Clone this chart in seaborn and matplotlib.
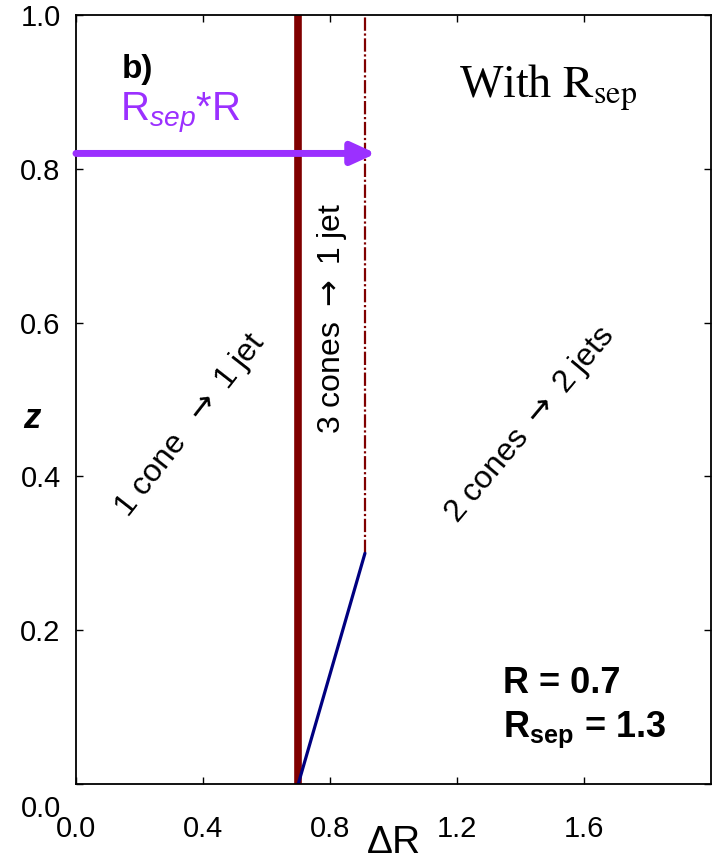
import numpy as np
import pandas as pd
import matplotlib
matplotlib.use("Agg")
import matplotlib.pyplot as plt
import matplotlib.transforms as mtransforms
import seaborn as sns

# Cone parameters
R = 0.7
R_sep = 1.3

# Region boundaries (Delta R, z)
merge_x = [0.7, 0.7]
merge_z = [0.0, 1.0]
sep_x = [0.91, 0.91]
sep_z = [0.3, 1.0]
diag_x = [0.7, 0.91]
diag_z = [0.0, 0.3]

# R_sep*R arrow
arrow_z = 0.82
arrow_end = 0.945

xticks = [0.0, 0.4, 0.8, 1.2, 1.6]
yticks = [0.0, 0.2, 0.4, 0.6, 0.8, 1.0]

region_labels = [r"1 cone  $\rightarrow$ 1 jet", r"3 cones $\rightarrow$ 1 jet",
                 r"2 cones $\rightarrow$ 2 jets"]

sns.set_theme(style="ticks")
plt.rcParams['font.family'] = ['Liberation Sans', 'DejaVu Sans']
plt.rcParams['text.color'] = 'black'
plt.rcParams['axes.labelcolor'] = 'black'
plt.rcParams['mathtext.fontset'] = 'custom'
plt.rcParams['mathtext.rm'] = 'Liberation Sans'
plt.rcParams['mathtext.it'] = 'Liberation Sans:italic'
plt.rcParams['mathtext.bf'] = 'Liberation Sans:bold'

fig = plt.figure(figsize=(7.12, 8.63), dpi=100)
ax = fig.add_axes([0.1067, 0.0915, 0.892, 0.8911])

sns.lineplot(x=merge_x, y=merge_z, estimator=None, sort=False, color="#800000", lw=5.5, ax=ax)
sns.lineplot(x=sep_x, y=sep_z, estimator=None, sort=False, color="#800000", lw=1.6,
             linestyle=(0, (6, 1.2, 1, 1.2)), ax=ax)
sns.lineplot(x=diag_x, y=diag_z, estimator=None, sort=False, color="#000080", lw=2.3, ax=ax)

ax.annotate("", xy=(arrow_end, arrow_z), xytext=(0.0, arrow_z),
            arrowprops=dict(arrowstyle="-|>,head_length=1.2,head_width=0.55",
                            color="#9b30ff", lw=5, shrinkA=0, shrinkB=0))

ax.set_xlim(0, 2.0)
ax.set_ylim(0, 1.0)
ax.set_xticks(xticks)
ax.set_yticks(yticks)
ax.set_xticklabels([f"{t:.1f}" for t in xticks])
ax.set_yticklabels([f"{t:.1f}" for t in yticks])
ax.tick_params(direction="in", top=True, right=True, length=5, width=1, labelsize=21,
               colors="black")
ax.tick_params(axis="x", pad=22)
ax.tick_params(axis="y", pad=11)
for s in ax.spines.values():
    s.set_linewidth(1.3)
    s.set_color("black")

# the y "0.0" label sits low in the original
lab0 = ax.get_yticklabels()[0]
lab0.set_transform(lab0.get_transform() + mtransforms.ScaledTranslation(0, -22 / 100, fig.dpi_scale_trans))

ax.set_xlabel(r"$\Delta$R", fontsize=28)
ax.xaxis.set_label_coords(0.5, -0.053)
ax.set_ylabel("z", fontsize=25, fontweight="bold", style="italic", rotation=0, va="center")
ax.yaxis.set_label_coords(-0.069, 0.475)

label_kw = dict(fontsize=23, ha="center", va="center", rotation_mode="anchor",
                math_fontfamily="dejavusans")
ax.text(0.36, 0.467, region_labels[0], rotation=52, **label_kw)
ax.text(0.806, 0.606, region_labels[1], rotation=90, **label_kw)
ax.text(1.43, 0.467, region_labels[2], rotation=50, **label_kw)

ax.text(0.145, 0.918, "b)", fontsize=24, fontweight="bold", va="baseline")
ax.text(0.139, 0.863, r"$\mathrm{R}_{\mathit{sep}}$*R", fontsize=29, color="#9b30ff", va="baseline")

ax.text(1.206, 0.893, r"With $\mathrm{R}_{\mathrm{sep}}$", fontsize=33, family="Liberation Serif",
        math_fontfamily="stix", va="baseline")

ax.text(1.345, 0.118, "R = 0.7", fontsize=26, fontweight="bold", va="baseline")
ax.text(1.345, 0.061, r"$\mathbf{R}_{\mathbf{sep}}$ = 1.3", fontsize=26, fontweight="bold",
        va="baseline")

fig.savefig("out.png", dpi=100)
